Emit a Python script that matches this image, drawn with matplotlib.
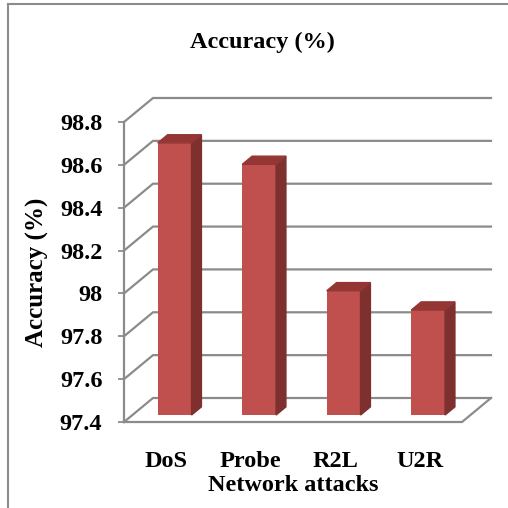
import matplotlib
matplotlib.use("Agg")
import matplotlib.pyplot as plt
from matplotlib.patches import Polygon
from matplotlib.lines import Line2D

categories = ["DoS", "Probe", "R2L", "U2R"]
accuracy = [98.67, 98.57, 97.98, 97.89]
y_ticks = [97.4, 97.6, 97.8, 98.0, 98.2, 98.4, 98.6, 98.8]
y_tick_labels = ["97.4", "97.6", "97.8", "98", "98.2", "98.4", "98.6", "98.8"]

plt.rcParams["font.family"] = ["Liberation Serif", "DejaVu Serif"]
plt.rcParams["font.weight"] = "bold"

W = H = 508
fig = plt.figure(figsize=(W / 100, H / 100), dpi=100)
fig.patch.set_facecolor("white")

# front plane of the 3-D box, in pixels
left, right, top, bottom = 124, 462, 122, 422
ax = fig.add_axes([left / W, 1 - bottom / H, (right - left) / W, (bottom - top) / H])
ax.patch.set_visible(False)
ymin, ymax = y_ticks[0], y_ticks[-1]
n = len(categories)
ax.set_xlim(-0.5, n - 0.5)
ax.set_ylim(ymin, ymax)
for s in ax.spines.values():
    s.set_visible(False)

# depth of the box (pixels) converted into data units
DX_PX, DY_PX = 29, 24
dxd = DX_PX / ((right - left) / n)
dyd = DY_PX / ((bottom - top) / (ymax - ymin))

grid_c = "#8b8b8b"
glw = 1.6

# back wall, side wall and floor
for v in y_ticks:
    ax.plot([-0.5, -0.5 + dxd, n - 0.5 + dxd], [v, v + dyd, v + dyd],
            color=grid_c, lw=glw, clip_on=False, zorder=1, solid_joinstyle="miter")
ax.plot([-0.5, -0.5], [ymin, ymax], color=grid_c, lw=glw, clip_on=False, zorder=1)
ax.plot([-0.5, n - 0.5, n - 0.5 + dxd], [ymin, ymin, ymin + dyd],
        color=grid_c, lw=glw, clip_on=False, zorder=1, solid_joinstyle="miter")

# 3-D bars
f1, f2 = 0.29, 0.63
bw = 0.40
front_c, side_c, top_c = "#C0504D", "#7D302E", "#943634"
xs = [i + f1 * dxd for i in range(n)]
heights = [v - ymin for v in accuracy]
base = ymin + f1 * dyd
ax.bar(xs, heights, width=bw, bottom=base, color=front_c, zorder=3, clip_on=False)
ddx, ddy = (f2 - f1) * dxd, (f2 - f1) * dyd
for x, h in zip(xs, heights):
    xl, xr = x - bw / 2, x + bw / 2
    t = base + h
    ax.add_patch(Polygon([(xr, base), (xr + ddx, base + ddy), (xr + ddx, t + ddy), (xr, t)],
                         closed=True, color=side_c, zorder=3, clip_on=False))
    ax.add_patch(Polygon([(xl, t), (xr, t), (xr + ddx, t + ddy), (xl + ddx, t + ddy)],
                         closed=True, color=top_c, zorder=3, clip_on=False))

# ticks and labels
ax.set_yticks(y_ticks)
ax.set_yticklabels(y_tick_labels)
ax.set_xticks(range(n))
ax.set_xticklabels(categories)
ax.tick_params(axis="y", length=4.5, width=1.3, color=grid_c, pad=11, labelsize=17.5)
ax.tick_params(axis="x", length=0, pad=21, labelsize=17.5)
ax.set_xlabel("Network attacks", fontsize=17.5, fontweight="bold", labelpad=2)
ax.set_ylabel("Accuracy (%)", fontsize=18, fontweight="bold", labelpad=8)

fig.text(262 / W, 1 - 42 / H, "Accuracy (%)", ha="center", va="center",
         fontsize=17.5, fontweight="bold")

# chart area border
fig.add_artist(Line2D([8 / W, 1], [1 - 4 / H, 1 - 4 / H], color="#8c8c8c", lw=1.5,
                      transform=fig.transFigure))
fig.add_artist(Line2D([8 / W, 8 / W], [1 - 4 / H, 0], color="#8c8c8c", lw=1.5,
                      transform=fig.transFigure))

fig.savefig("out.png", dpi=100)
